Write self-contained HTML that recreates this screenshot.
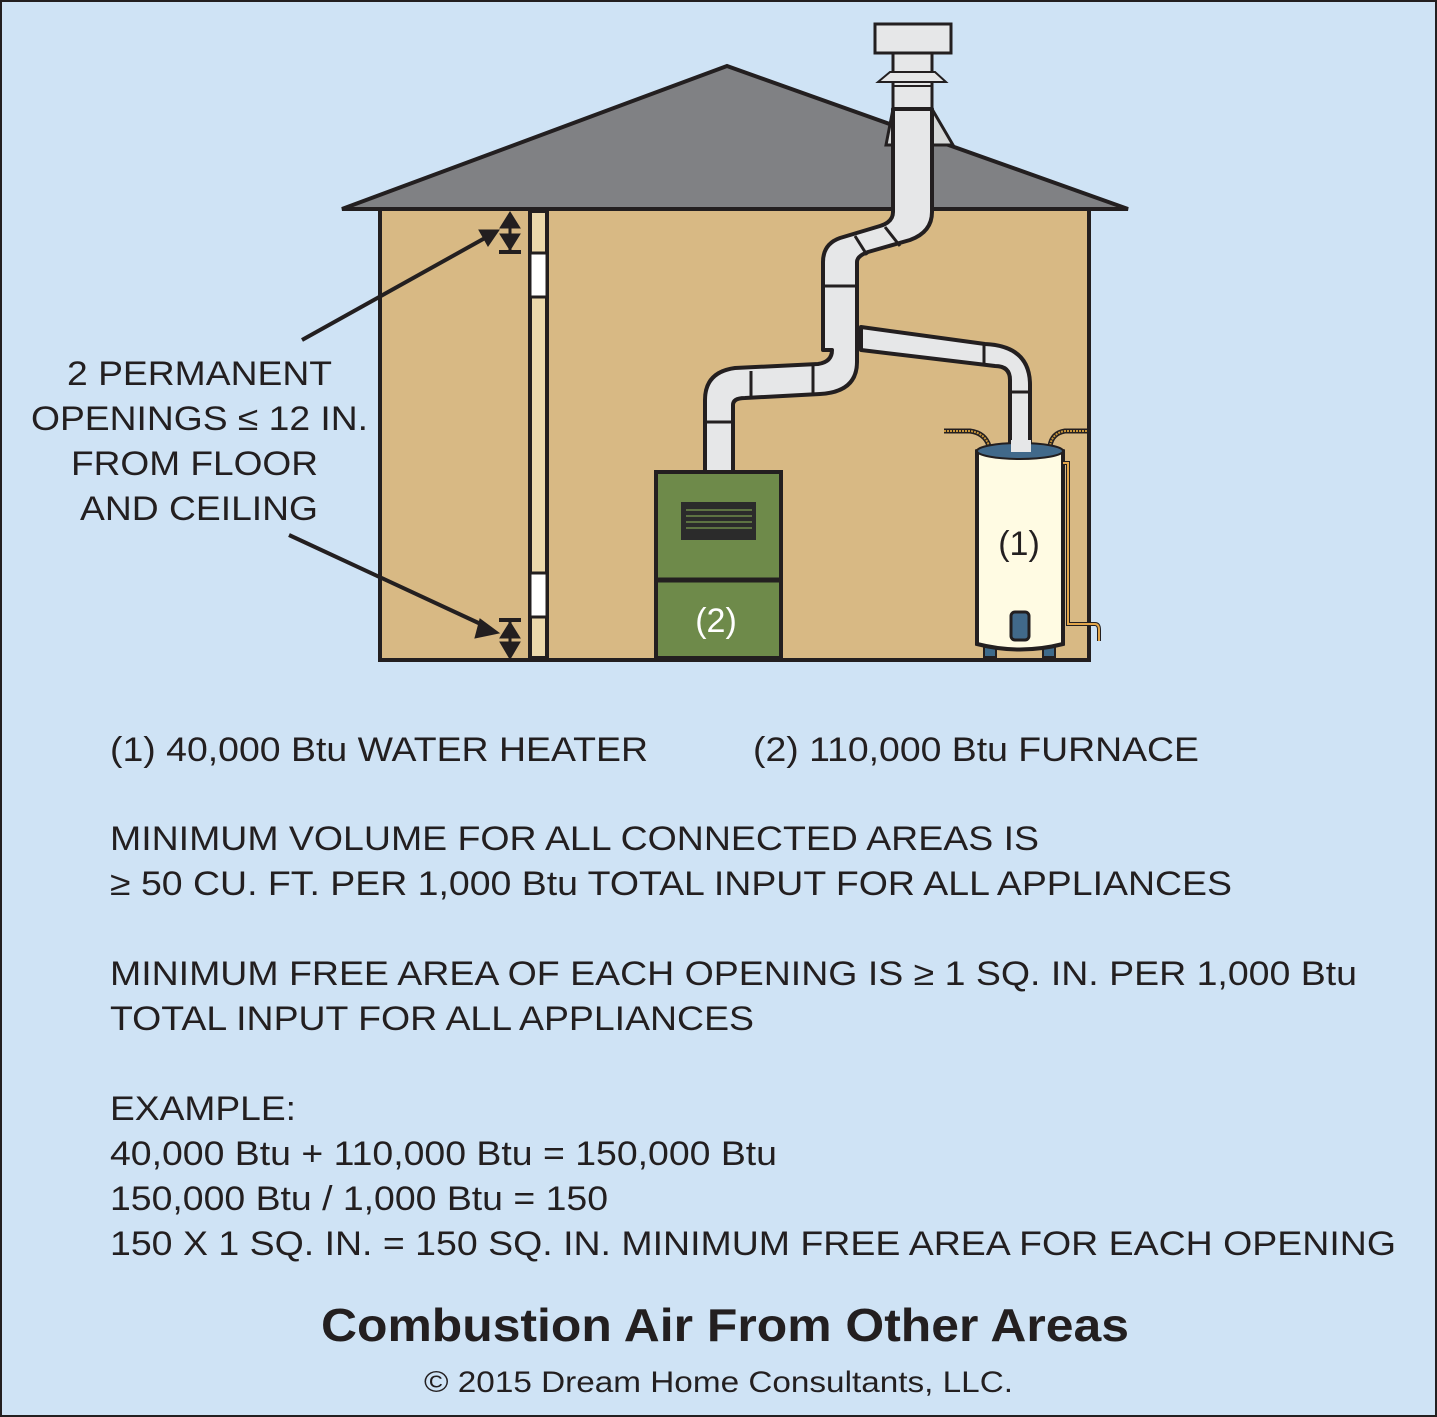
<!DOCTYPE html>
<html><head><meta charset="utf-8"><style>
html,body{margin:0;padding:0;background:#cfe3f5}
svg{display:block}
text{font-family:"Liberation Sans",Arial,sans-serif;fill:#231f20}
</style></head><body>
<svg width="1437" height="1417" viewBox="0 0 1437 1417" xmlns="http://www.w3.org/2000/svg">
<rect x="1" y="1" width="1435" height="1415" fill="#cfe3f5" stroke="#231f20" stroke-width="2"/>
<rect x="380" y="209" width="709" height="451" fill="#d8b984" stroke="#231f20" stroke-width="4"/>
<polygon points="342,209 727,66 1128,209" fill="#808184" stroke="#231f20" stroke-width="4" stroke-linejoin="miter"/>
<rect x="530" y="211" width="17" height="447" fill="#ecd9ac" stroke="#231f20" stroke-width="4"/>
<rect x="530" y="253" width="17" height="44" fill="#fff" stroke="#231f20" stroke-width="3"/>
<rect x="530" y="573" width="17" height="44" fill="#fff" stroke="#231f20" stroke-width="3"/>
<polygon points="886,145 893,109 932,109 953,145" fill="#d6d8d8" stroke="#231f20" stroke-width="3"/>
<rect x="875" y="24" width="76" height="29" fill="#e6e7e8" stroke="#231f20" stroke-width="3"/>
<rect x="893" y="53" width="39" height="56" fill="#e6e7e8" stroke="#231f20" stroke-width="3"/>
<polygon points="878,82 890,72 935,72 946,82" fill="#e6e7e8" stroke="#231f20" stroke-width="2"/>
<line x1="893" y1="86" x2="932" y2="86" stroke="#231f20" stroke-width="2"/>
<g fill="#e6e7e8" stroke="#231f20" stroke-width="4" stroke-linejoin="round">
<path d="M893,109 V212 Q893,222 880,226 L840,238 Q823,244 823,262 V350 L832,350 Q832,362 818,364 L735,368 Q705,372 705,400 V472 L733,472 V405 Q733,398 745,398 L820,394 Q857,392 857,362 V262 Q857,256 868,252 L910,240 Q932,232 932,212 V109 Z"/>
<path d="M861,327 L985,344 Q1030,346 1030,385 V452 L1010,452 V380 Q1010,366 995,366 L861,350 Z"/>
</g>
<g stroke="#231f20" stroke-width="3">
<line x1="855" y1="236" x2="867" y2="255"/><line x1="885" y1="227" x2="900" y2="246"/>
<line x1="823" y1="286" x2="857" y2="286"/>
<line x1="751" y1="371" x2="751" y2="398"/><line x1="813" y1="366" x2="813" y2="395"/>
<line x1="705" y1="422" x2="733" y2="422"/>
<line x1="984" y1="344" x2="984" y2="366"/><line x1="1010" y1="392" x2="1030" y2="392"/>
</g>
<rect x="656" y="472" width="125" height="186" fill="#6e8a4a" stroke="#231f20" stroke-width="4"/>
<line x1="656" y1="580" x2="781" y2="580" stroke="#231f20" stroke-width="5"/>
<rect x="681" y="502" width="75" height="38" fill="#2b2b2b"/>
<g stroke="#6e8a4a" stroke-width="1.5"><line x1="686" y1="510" x2="752" y2="510"/><line x1="686" y1="516" x2="752" y2="516"/><line x1="686" y1="522" x2="752" y2="522"/><line x1="686" y1="528" x2="752" y2="528"/></g>
<text x="716" y="632" font-size="34" text-anchor="middle" style="fill:#fff">(2)</text>
<path d="M944,431 H970 Q985,433 989,446" fill="none" stroke="#231f20" stroke-width="5"/>
<path d="M944,431 H970 Q985,433 989,446" fill="none" stroke="#c8953a" stroke-width="2" stroke-dasharray="2 1"/>
<path d="M1087,431 H1065 Q1052,433 1050,446" fill="none" stroke="#231f20" stroke-width="5"/>
<path d="M1087,431 H1065 Q1052,433 1050,446" fill="none" stroke="#c8953a" stroke-width="2" stroke-dasharray="2 1"/>
<rect x="984" y="645" width="12" height="12" fill="#3e6a8a" stroke="#231f20" stroke-width="2"/>
<rect x="1043" y="645" width="12" height="12" fill="#3e6a8a" stroke="#231f20" stroke-width="2"/>
<path d="M977,451 Q1020,438 1063,451 V644 Q1020,655 977,644 Z" fill="#fffbe3" stroke="#231f20" stroke-width="4"/>
<ellipse cx="1020" cy="451" rx="43" ry="8" fill="#41698a" stroke="#231f20" stroke-width="2"/>
<rect x="1011" y="440" width="20" height="12" fill="#e6e7e8"/>
<rect x="1011" y="612" width="18" height="28" rx="4" fill="#41698a" stroke="#231f20" stroke-width="3"/>
<path d="M1063,463 H1068 V624 H1095 Q1099,624 1099,630 V641" fill="none" stroke="#231f20" stroke-width="4"/>
<path d="M1063,463 H1068 V624 H1095 Q1099,624 1099,630 V641" fill="none" stroke="#e3a64a" stroke-width="2"/>
<text x="1019" y="555" font-size="34" text-anchor="middle">(1)</text>
<g fill="#231f20" stroke="#231f20">
<line x1="302" y1="340" x2="485" y2="238" stroke-width="4"/>
<polygon points="499,230 479,230 488,246" stroke-width="1"/>
<line x1="289" y1="535" x2="485" y2="626" stroke-width="4"/>
<polygon points="499,633 480,619 475,638" stroke-width="1"/>
<line x1="510" y1="214" x2="510" y2="250" stroke-width="3"/>
<polygon points="510,212 500,228 520,228" stroke-width="1"/>
<polygon points="510,250 500,234 520,234" stroke-width="1"/>
<line x1="499" y1="252" x2="521" y2="252" stroke-width="4"/>
<line x1="510" y1="622" x2="510" y2="657" stroke-width="3"/>
<polygon points="510,622 500,638 520,638" stroke-width="1"/>
<polygon points="510,659 500,642 520,642" stroke-width="1"/>
<line x1="499" y1="620" x2="521" y2="620" stroke-width="4"/>
</g>
<g font-size="34">
<text x="67" y="385" textLength="265" lengthAdjust="spacingAndGlyphs">2 PERMANENT</text>
<text x="31" y="430" textLength="337" lengthAdjust="spacingAndGlyphs">OPENINGS ≤ 12 IN.</text>
<text x="71" y="475" textLength="247" lengthAdjust="spacingAndGlyphs">FROM FLOOR</text>
<text x="80" y="520" textLength="238" lengthAdjust="spacingAndGlyphs">AND CEILING</text>
</g>
<g font-size="34">
<text x="110" y="761" textLength="538" lengthAdjust="spacingAndGlyphs">(1) 40,000 Btu WATER HEATER</text>
<text x="753" y="761" textLength="446" lengthAdjust="spacingAndGlyphs">(2) 110,000 Btu FURNACE</text>
<text x="110" y="850" textLength="929" lengthAdjust="spacingAndGlyphs">MINIMUM VOLUME FOR ALL CONNECTED AREAS IS</text>
<text x="110" y="895" textLength="1122" lengthAdjust="spacingAndGlyphs">≥ 50 CU. FT. PER 1,000 Btu TOTAL INPUT FOR ALL APPLIANCES</text>
<text x="110" y="985" textLength="1247" lengthAdjust="spacingAndGlyphs">MINIMUM FREE AREA OF EACH OPENING IS ≥ 1 SQ. IN. PER 1,000 Btu</text>
<text x="110" y="1030" textLength="644" lengthAdjust="spacingAndGlyphs">TOTAL INPUT FOR ALL APPLIANCES</text>
<text x="110" y="1120" textLength="186" lengthAdjust="spacingAndGlyphs">EXAMPLE:</text>
<text x="110" y="1165" textLength="667" lengthAdjust="spacingAndGlyphs">40,000 Btu + 110,000 Btu = 150,000 Btu</text>
<text x="110" y="1210" textLength="498" lengthAdjust="spacingAndGlyphs">150,000 Btu / 1,000 Btu = 150</text>
<text x="110" y="1255" textLength="1286" lengthAdjust="spacingAndGlyphs">150 X 1 SQ. IN. = 150 SQ. IN. MINIMUM FREE AREA FOR EACH OPENING</text>
</g>
<text x="321" y="1341" font-size="46" font-weight="bold" textLength="808" lengthAdjust="spacingAndGlyphs">Combustion Air From Other Areas</text>
<text x="424" y="1392" font-size="30" textLength="589" lengthAdjust="spacingAndGlyphs">© 2015 Dream Home Consultants, LLC.</text>
</svg>
</body></html>
